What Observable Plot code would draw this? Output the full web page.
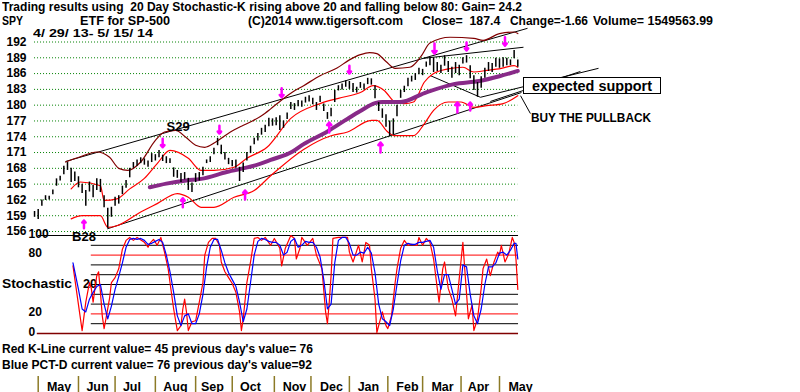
<!DOCTYPE html>
<html><head><meta charset="utf-8">
<script src="https://cdn.jsdelivr.net/npm/d3@7"></script>
<script src="https://cdn.jsdelivr.net/npm/@observablehq/plot@0.6"></script>
<style>
html,body{margin:0;padding:0;background:#fff;}
#wrap{position:relative;width:800px;height:392px;overflow:hidden;font-family:"Liberation Sans",Arial,sans-serif;font-weight:bold;color:#000;background:#fff;}
#wrap svg{position:absolute;left:0;}
.lbl{position:absolute;white-space:pre;line-height:1;transform-origin:0 0;}
.box{position:absolute;border:1px solid #000;background:#fff;box-sizing:border-box;}
</style></head><body><div id="wrap"></div>
<script>
// ---------- data ----------
const priceTicks = [156,159,162,165,168,171,174,177,180,183,186,189,192];
const barDay = [0,2,4,6,8,10,12,14,16,18,20,22,24,26,28,30,32,34,36,38,40,42,44,46,48,50,52,54,56,58,60,62,64,66,68,70,72,74,76,78,80,82,84,86,88,90,92,94,96,98,100,102,104,106,108,110,112,114,116,118,120,122,124,126,128,130,132,134,136,138,140,142,144,146,148,150,152,154,156,158,160,162,164,166,168,170,172,174,176,178,180,182,184,186,188,190,192,194,196,198,200,202,204,206,208,210,212,214,216,218,220,222,224,226,228,230,232,234,236,238,240,242,244,246,248,250,252,254,256,258,260,262,264];
const barHigh = [159.8,160.2,162.0,162.8,162.7,163.9,166.0,166.5,168.4,169.1,168.0,167.3,166.4,165.0,163.8,165.4,164.8,166.0,165.9,162.8,160.4,160.6,162.5,162.8,164.6,165.7,168.0,169.1,169.6,170.0,169.8,169.4,170.8,170.6,171.4,170.5,170.2,169.8,168.1,167.6,167.0,167.2,166.1,165.2,167.0,167.2,168.2,169.6,170.2,171.8,173.7,172.4,171.0,169.9,169.5,169.6,168.2,169.0,171.0,172.2,173.7,174.6,175.6,176.2,177.5,177.4,177.6,178.0,177.0,178.5,180.5,180.3,180.9,180.8,181.5,181.8,181.3,180.5,181.7,180.2,178.6,179.4,182.8,183.7,184.0,184.6,184.5,184.1,183.4,184.3,184.0,185.1,185.0,183.7,180.5,179.3,178.2,177.0,177.4,180.0,182.8,183.6,185.1,185.5,186.0,187.0,186.8,188.2,189.0,188.9,188.1,187.6,189.4,188.3,187.2,188.1,187.6,189.0,189.4,187.5,185.6,184.3,185.4,187.0,188.1,187.9,188.9,188.8,189.0,188.9,188.6,190.4,188.6];
const barLow = [158.7,158.3,160.8,161.9,162.0,163.0,164.6,165.6,166.8,167.6,165.3,165.5,164.3,163.2,160.8,163.5,162.4,163.8,163.4,160.5,156.6,158.7,160.8,161.2,163.0,164.2,166.2,168.0,168.4,168.9,168.6,168.2,169.1,169.4,170.0,169.3,168.9,168.9,166.3,166.1,165.3,165.8,163.8,163.4,165.3,165.6,166.6,168.9,169.1,170.6,172.3,170.6,169.6,168.7,168.3,168.0,165.5,167.2,169.4,170.8,172.5,173.2,174.3,174.8,175.9,176.0,176.1,175.2,175.6,177.3,179.2,179.0,179.7,179.6,180.4,180.6,180.1,179.0,180.5,178.8,177.3,177.8,180.5,182.7,182.9,183.4,183.0,182.4,182.3,183.2,182.9,183.9,183.8,181.2,178.8,177.5,175.8,174.0,174.4,177.8,181.3,182.4,183.5,184.4,184.7,185.8,185.6,187.2,187.5,186.2,186.4,186.0,187.4,186.2,185.1,186.0,185.6,187.8,188.0,185.0,182.8,181.5,183.2,185.1,186.4,186.2,187.2,187.0,187.2,187.5,187.5,188.8,187.2];

const upperBandDay = [17,25,34,41,46,51,58,66,71,77,83,88,93,99,107,113,119,124,129,135,141,147,156,165,172,178,183,187,192,197,205,211,216,227,240,245,254,262,264];
const upperBandVal = [169.2,170.2,171.1,170.1,168.0,167.6,169.2,173.3,174.9,175.2,173.8,172.4,172.0,173.0,174.9,176.0,177.0,178.0,179.3,181.0,182.5,183.7,185.6,187.0,188.6,189.6,190.0,189.8,188.3,187.0,187.2,189.2,191.8,192.9,192.7,192.3,193.6,193.9,193.6];
const redUpDay = [20,25,36,38,45,52,60,67,74,84,91,98,109,116,127,140,156,166,178,185,191,197,202,207,213,218,226,234,240,247,255,262,264];
const redUpVal = [164.1,165.4,164.7,161.9,162.2,164.1,166.1,168.9,171.4,169.9,167.6,167.6,168.2,169.9,172.0,177.5,180.3,181.3,182.4,183.7,182.8,180.6,180.3,180.6,184.4,186.0,186.9,187.2,186.3,186.6,187.0,187.5,187.2];
const redLoDay = [20,26,36,40,45,58,67,78,84,91,98,109,120,129,147,162,171,184,187,193,197,207,213,218,226,233,240,247,256,264];
const redLoVal = [158.4,159.0,159.0,156.8,157.1,159.7,161.3,163.2,162.5,160.6,160.6,162.5,163.8,166.6,171.6,174.2,174.9,177.1,177.1,174.9,174.2,174.2,176.5,179.0,180.6,180.6,179.6,179.9,180.3,181.8];
const maDay = [63,72,83,91,105,120,129,141,147,160,170,178,186,190,200,213,229,243,254,264];
const maVal = [164.4,165.1,165.7,166.0,167.3,168.5,169.6,171.2,172.6,175.0,177.2,178.9,180.4,180.6,180.6,182.3,184.0,184.6,185.5,186.5];

// trend lines (day index, price)
const trendX1 = [16.9,212.5,39.7,216.3,243.6,249.0,265.5];
const trendY1 = [169.3,188.9,156.5,185.6,181.5,180.7,181.8];
const trendX2 = [269.3,267.1,266.0,243.6,308.1,298.2,270.9];
const trendY2 = [194.6,191.0,182.4,181.5,187.0,186.4,178.4];

// signal arrows
const sellDay = [70,101,135,172,218.5,236,257];
const sellTop = [173.6,176.1,183.2,187.5,191.7,191.9,192.9];
const sellTip = [172.0,174.6,181.5,186.0,189.8,190.4,191.3];
const buyDay = [27,81,115,161,189,231,238];
const buyTip = [158.1,162.3,163.8,176.7,172.9,180.5,180.5];
const buyBottom = [156.6,160.6,162.1,174.8,171.0,178.6,179.0];
const signalText = ["S29","B28"];
const signalDay = [78.4,27];
const signalPrice = [175.8,154.9];

// stochastic
const kDay = [21,26,28,30,31,32,33,34,35,36,37,38,39,41,42,44,46,48,50,52,54,56,60,62,63,65,67,69,71,73,74,76,78,80,81,82,83,84,86,88,90,92,93,95,97,99,101,102,104,106,108,110,112,113,114,116,118,120,122,124,126,129,131,134,135,137,140,142,143,145,146,149,152,154,157,159,160,161,162,163,166,171,172,174,177,179,181,183,184,186,187,190,192,193,195,197,198,200,202,204,206,209,210,212,214,216,218,220,221,223,224,226,228,230,232,234,235,237,239,240,242,244,245,247,249,251,253,254,255,257,259,261,262,263,264];
const kVal = [69,3,32,52,46,32,46,59,63,42,18,5,15,36,52,57,66,86,95,98,95,98,93,88,92,96,90,98,83,66,52,25,3,8,25,35,22,3,12,13,32,52,80,93,97,97,90,73,63,57,51,42,22,3,15,52,73,97,98,95,98,90,97,87,69,87,100,97,76,87,98,90,97,80,66,22,10,32,59,97,98,98,83,73,90,73,93,90,66,35,1,22,8,5,18,52,66,87,95,90,91,90,98,90,97,93,76,46,32,66,73,46,35,18,56,93,66,15,29,3,15,46,66,76,59,73,83,80,90,73,81,98,93,76,45];
const dDay = [21,24,26,28,30,32,34,36,38,40,42,44,46,48,50,52,54,56,58,60,62,64,66,68,70,72,74,76,78,80,82,84,86,88,90,92,94,96,98,100,102,104,106,108,110,112,114,116,118,120,122,124,126,128,130,132,134,136,138,140,142,144,146,148,150,152,154,156,158,160,162,164,166,168,170,172,174,176,178,180,182,184,186,188,190,192,194,196,198,200,202,204,206,208,210,212,214,216,218,220,222,224,226,228,230,232,234,236,238,240,242,244,246,248,250,252,254,256,258,260,262,263,264];
const dVal = [72,45,25,22,35,42,48,50,30,15,28,45,58,72,88,96,97,96,97,95,91,92,94,96,93,80,63,42,18,8,18,20,10,10,20,40,68,88,96,96,85,72,62,55,48,32,12,25,52,80,94,97,96,94,93,93,90,80,83,94,97,88,90,94,93,93,88,78,55,25,30,72,95,98,98,92,80,80,83,82,88,82,62,30,15,12,8,25,50,74,90,92,91,91,93,93,94,95,88,64,45,60,60,45,30,35,70,68,40,18,10,25,50,68,68,72,82,83,80,85,92,92,76];
const stochBlackLevels = [10,30,40,50,60,70,90];
const stochRedLevels = [20,80];
const stochTicks = [0,20,80,100];

const monthNames = ["May","Jun","Jul","Aug","Sep","Oct","Nov","Dec","Jan","Feb","Mar","Apr","May"];
const monthStart = [2,24,44,66,88,108,131,151,172,193,212,233,254];
const monthMid = [13.4,34.4,53.2,77.0,97.2,118.0,142.0,162.2,182.4,203.7,222.9,242.5,265.5];

// ---------- build ----------
const zip = (a, b, ka, kb) => a.map((v, i) => ({[ka]: v, [kb]: b[i]}));
const bars = barDay.map((d, i) => ({d, hi: barHigh[i], lo: barLow[i]}));
const upper = zip(upperBandDay, upperBandVal, "d", "v");
const redUp = zip(redUpDay, redUpVal, "d", "v");
const redLo = zip(redLoDay, redLoVal, "d", "v");
const ma = zip(maDay, maVal, "d", "v");
const trends = trendX1.map((x, i) => ({x1: x, y1: trendY1[i], x2: trendX2[i], y2: trendY2[i]}));
const sells = sellDay.map((d, i) => ({d, a: sellTop[i], b: sellTip[i]}));
const buys = buyDay.map((d, i) => ({d, a: buyBottom[i], b: buyTip[i]}));
const signals = signalText.map((t, i) => ({t, d: signalDay[i], p: signalPrice[i]}));
const K = zip(kDay, kVal, "d", "v");
const D = zip(dDay, dVal, "d", "v");

const FONT = '"Liberation Sans", Arial, sans-serif';
const baseStyle = {background: "transparent", overflow: "visible", fontFamily: FONT, fontSize: "12px", fontWeight: "bold", color: "black"};
const X_LEFT = 34.04, X_RIGHT = 282.7;
const wrap = document.getElementById("wrap");

function label(txt, left, baseline, width, fs) {
  const s = document.createElement("div");
  s.className = "lbl";
  s.textContent = txt;
  s.style.fontSize = fs + "px";
  s.style.left = left + "px";
  s.style.top = (baseline - 0.8465 * fs) + "px";
  wrap.appendChild(s);
  const w = s.getBoundingClientRect().width;
  if (width && w > 0) s.style.transform = `scaleX(${width / w})`;
  return s;
}

// labels that sit behind the stochastic lines
label("Stochastic", 2, 288.3, 70, 13);
label("20", 83, 288.3, 14, 13);

const price = Plot.plot({
  width: 800, height: 236,
  marginLeft: X_LEFT, marginRight: X_RIGHT, marginTop: 41.5, marginBottom: 5,
  x: {domain: [0, 264], axis: null},
  y: {domain: [156, 192]},
  style: baseStyle,
  marks: [
    Plot.ruleY(priceTicks, {stroke: "#008000", strokeDasharray: "1,2", strokeWidth: 1}),
    Plot.axisY(priceTicks, {tickSize: 0, tickPadding: 8, fontSize: 12, fontWeight: "bold", fill: "black"}),
    Plot.link(trends, {x1: "x1", y1: "y1", x2: "x2", y2: "y2", stroke: "black", strokeWidth: 1}),
    Plot.line(upper, {x: "d", y: "v", stroke: "#800000", strokeWidth: 1.2, curve: "monotone-x"}),
    Plot.line(redUp, {x: "d", y: "v", stroke: "#ff0000", strokeWidth: 1.2, curve: "monotone-x"}),
    Plot.line(redLo, {x: "d", y: "v", stroke: "#ff0000", strokeWidth: 1.2, curve: "monotone-x"}),
    Plot.line(ma, {x: "d", y: "v", stroke: "#882a88", strokeWidth: 4, curve: "monotone-x"}),
    Plot.ruleX(bars, {x: "d", y1: "lo", y2: "hi", stroke: "black", strokeWidth: 1.5}),
    Plot.arrow(sells, {x1: "d", y1: "a", x2: "d", y2: "b", stroke: "#ff00ff", strokeWidth: 2.5, headLength: 5, headAngle: 80}),
    Plot.arrow(buys, {x1: "d", y1: "a", x2: "d", y2: "b", stroke: "#ff00ff", strokeWidth: 2.5, headLength: 5, headAngle: 80}),
    Plot.text(signals, {x: "d", y: "p", text: "t", fontSize: 13, fontWeight: "bold", fill: "black"})
  ]
});
price.style.top = "0px";
wrap.appendChild(price);

const stoch = Plot.plot({
  width: 800, height: 115,
  marginLeft: X_LEFT, marginRight: X_RIGHT, marginTop: 10, marginBottom: 7,
  x: {domain: [0, 264], axis: null},
  y: {domain: [0, 100], axis: null},
  style: baseStyle,
  marks: [
    Plot.ruleY(stochBlackLevels, {x1: 31, x2: 264.4, stroke: "black", strokeWidth: 1}),
    Plot.ruleY([100], {x1: 2, x2: 264.4, stroke: "black", strokeWidth: 1}),
    Plot.ruleY(stochRedLevels, {x1: 31, x2: 264.4, stroke: "#ff0000", strokeWidth: 1}),
    Plot.ruleY([0], {x1: 1.5, x2: 264.4, stroke: "#800000", strokeWidth: 1.5}),
    Plot.line(K, {x: "d", y: "v", stroke: "#ff0000", strokeWidth: 1.2}),
    Plot.line(D, {x: "d", y: "v", stroke: "#0000ff", strokeWidth: 1.2}),
    Plot.text(stochTicks, {y: d => d, text: d => String(d), frameAnchor: "left", dx: -6, dy: -1.5, textAnchor: "start", fontSize: 12, fontWeight: "bold", fill: "black"})
  ]
});
stoch.style.top = "225px";
wrap.appendChild(stoch);

const months = Plot.plot({
  width: 800, height: 16,
  marginLeft: X_LEFT, marginRight: X_RIGHT, marginTop: 0, marginBottom: 0,
  x: {domain: [0, 264], axis: null},
  style: baseStyle,
  marks: [
    Plot.ruleX(monthStart, {stroke: "#8c7a26", strokeWidth: 1.5}),
    Plot.text(monthNames, {x: (d, i) => monthMid[i], text: d => d, frameAnchor: "middle", dy: 2, fontSize: 12.5, fontWeight: "bold", fill: "black"})
  ]
});
months.style.top = "376px";
wrap.appendChild(months);

// header / footer texts
label("Trading results using  20 Day Stochastic-K rising above 20 and falling below 80: Gain= 24.2", 2, 11.3, 520, 12);
label("SPY", 2, 25, 21, 12);
label("ETF for SP-500", 80, 25, 90, 12);
label("(C)2014 www.tigersoft.com", 248, 25, 155, 12);
label("Close=  187.4", 421.7, 25, 78.3, 12);
label("Change=-1.66", 510, 25, 78, 12);
label("Volume= 1549563.99", 593, 25, 120, 12);
label("4/ 29/ 13- 5/ 15/ 14", 33, 37.3, 120, 10.5);
label("Red K-Line current value= 45 previous day's value= 76", 2, 353.3, 311, 12);
label("Blue PCT-D current value= 76 previous day's value=92", 2, 369, 310, 12);

const box = document.createElement("div");
box.className = "box";
box.style.left = "522.7px"; box.style.top = "77.3px";
box.style.width = "138px"; box.style.height = "17px";
wrap.appendChild(box);
label("expected support", 531.7, 90.5, 120, 14);
label("BUY THE PULLBACK", 530.7, 121.7, 120, 13);
</script></body></html>
